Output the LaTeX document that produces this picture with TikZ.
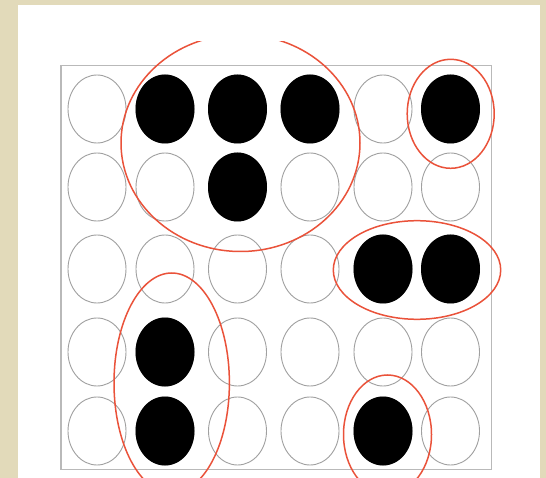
\documentclass[tikz,border=0pt]{standalone}
\definecolor{bg}{RGB}{226,218,186}
\definecolor{redline}{RGB}{234,82,58}
\definecolor{dotgray}{RGB}{160,160,160}
\definecolor{framegray}{RGB}{185,185,185}
\begin{document}
\begin{tikzpicture}[x=1pt,y=-1pt,
  dot/.style={draw=dotgray, line width=0.9pt},
  full/.style={fill=black},
  ring/.style={draw=redline, line width=1.5pt}]
\useasboundingbox (0,0) rectangle (546,478);
\clip (0,0) rectangle (546,478);
\fill[bg] (0,0) rectangle (546,478);
\fill[white] (17.5,5) rectangle (540,478);
\draw[framegray, line width=1.5pt] (61,65.5) rectangle (491.5,469.5);
% grid of empty circles
\foreach \x in {97,165,237.5,310,383,450.5}
  \foreach \y in {109,187,269,352,431}
    \draw[dot] (\x,\y) ellipse [x radius=29pt, y radius=34pt];
% filled circles
\foreach \x/\y in {165/109, 237.5/109, 310/109, 450.5/109,
                   237.5/187,
                   383/269, 450.5/269,
                   165/352,
                   165/431, 383/431}
  \fill[full] (\x,\y) ellipse [x radius=29.5pt, y radius=34.5pt];
% red groupings
\begin{scope}
  \clip (0,42) rectangle (546,478);
  \draw[ring] (240.5,143) ellipse [x radius=119.5pt, y radius=108.5pt];
\end{scope}
\draw[ring] (450.7,113.8) ellipse [x radius=43.5pt, y radius=54.5pt];
\draw[ring] (417,270) ellipse [x radius=83.7pt, y radius=49.3pt];
\draw[ring] (171.7,383) ellipse [x radius=57.7pt, y radius=110pt];
\draw[ring] (387.5,434.5) ellipse [x radius=44pt, y radius=59.5pt];
\end{tikzpicture}
\end{document}
